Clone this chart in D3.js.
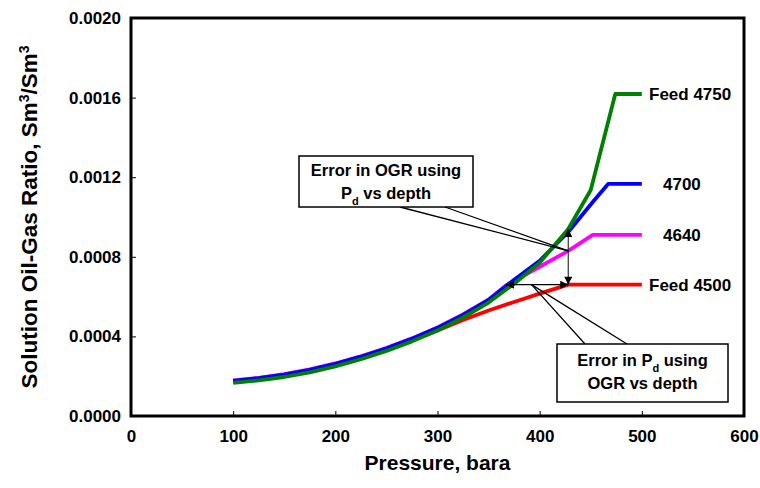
<!DOCTYPE html>
<html>
<head>
<meta charset="utf-8">
<script src="https://cdn.jsdelivr.net/npm/d3@7/dist/d3.min.js"></script>
<style>
  body { margin: 0; background: #fff; }
  svg { display: block; font-family: "Liberation Sans", Arial, sans-serif; font-weight: bold; }
</style>
</head>
<body>
<svg id="chart" width="760" height="488"></svg>
<script>
// Solution oil-gas ratio (Sm3/Sm3) versus pressure (bara) for four feeds
const pressure4500 = [100, 125, 150, 175, 200, 225, 250, 275, 300, 325, 350, 375, 400, 428, 500];
const ogr4500 = [0.000175, 0.000188, 0.000205, 0.000228, 0.000258, 0.000293, 0.000334, 0.000380, 0.000430, 0.000482, 0.000530, 0.000573, 0.000615, 0.000660, 0.000660];

const pressure4640 = [100, 125, 150, 175, 200, 225, 250, 275, 300, 325, 350, 367, 400, 428, 452, 500];
const ogr4640 = [0.000179, 0.000192, 0.000210, 0.000234, 0.000264, 0.000300, 0.000342, 0.000390, 0.000445, 0.000510, 0.000585, 0.000656, 0.000750, 0.000830, 0.000910, 0.000910];

const pressure4700 = [100, 125, 150, 175, 200, 225, 250, 275, 300, 325, 350, 375, 400, 428, 452, 467, 500];
const ogr4700 = [0.000177, 0.000190, 0.000208, 0.000232, 0.000262, 0.000298, 0.000340, 0.000388, 0.000443, 0.000508, 0.000583, 0.000685, 0.000780, 0.000925, 0.001075, 0.001166, 0.001166];

const pressure4750 = [100, 125, 150, 175, 200, 225, 250, 275, 300, 325, 350, 375, 400, 428, 450, 474, 500];
const ogr4750 = [0.000166, 0.000179, 0.000196, 0.000219, 0.000249, 0.000285, 0.000327, 0.000375, 0.000430, 0.000495, 0.000570, 0.000665, 0.000770, 0.000940, 0.001136, 0.001618, 0.001618];

const seriesNames = ["Feed 4500", "4640", "4700", "Feed 4750"];
const seriesColors = ["#ff0000", "#ff00ff", "#0000ff", "#008000"];

const xTicks = [0, 100, 200, 300, 400, 500, 600];
const yTicks = [0.0000, 0.0004, 0.0008, 0.0012, 0.0016, 0.0020];

// Annotation anchors in data units
const ogrErrorPressure = 428;          // vertical arrow: OGR error at this pressure
const ogrErrorRange = [0.000940, 0.000660];
const pdErrorOgr = 0.000660;           // horizontal arrow: Pd error at this OGR
const pdErrorRange = [367, 428];
const ogrCalloutTip = [428, 0.000830];
const pdCalloutTip = [392, 0.000660];

const svg = d3.select("#chart");
const x = d3.scaleLinear().domain([0, 600]).range([131, 744]);
const y = d3.scaleLinear().domain([0, 0.002]).range([416, 18]);

const series = [
  { name: seriesNames[0], color: seriesColors[0], p: pressure4500, v: ogr4500 },
  { name: seriesNames[1], color: seriesColors[1], p: pressure4640, v: ogr4640 },
  { name: seriesNames[2], color: seriesColors[2], p: pressure4700, v: ogr4700 },
  { name: seriesNames[3], color: seriesColors[3], p: pressure4750, v: ogr4750 }
];

// Axes with inward ticks
const xAxis = d3.axisBottom(x).tickValues(xTicks).tickSizeInner(-5).tickSizeOuter(0).tickPadding(14).tickFormat(d3.format("d"));
const yAxis = d3.axisLeft(y).tickValues(yTicks).tickSizeInner(-5).tickSizeOuter(0).tickPadding(10).tickFormat(d3.format(".4f"));

const gx = svg.append("g").attr("transform", `translate(0,${y(0)})`).call(xAxis);
const gy = svg.append("g").attr("transform", `translate(${x(0)},0)`).call(yAxis);
[gx, gy].forEach(g => {
  g.select(".domain").remove();
  g.selectAll(".tick line").attr("stroke", "#000").attr("stroke-width", 1);
  g.selectAll(".tick text").attr("fill", "#000").style("font-size", "17px").style("font-weight", "bold")
    .style("font-family", "'Liberation Sans', Arial, sans-serif");
});
gx.selectAll(".tick text").attr("dy", "0.71em");

// Series lines
const line = d3.line().x(d => x(d[0])).y(d => y(d[1]));
series.forEach(s => {
  svg.append("path")
    .datum(s.p.map((p, k) => [p, s.v[k]]))
    .attr("d", line)
    .attr("fill", "none")
    .attr("stroke", s.color)
    .attr("stroke-width", 3.8)
    .attr("stroke-linejoin", "round");
});

// Plot frame
svg.append("rect")
  .attr("x", x(0)).attr("y", y(0.002))
  .attr("width", x(600) - x(0)).attr("height", y(0) - y(0.002))
  .attr("fill", "none").attr("stroke", "#000").attr("stroke-width", 3);

// Series labels at the right end of each curve
const labelPos = [
  { dx: 649, ogr: ogr4500[ogr4500.length - 1] },
  { dx: 663, ogr: ogr4640[ogr4640.length - 1] },
  { dx: 663, ogr: ogr4700[ogr4700.length - 1] },
  { dx: 649, ogr: ogr4750[ogr4750.length - 1] }
];
series.forEach((s, i) => {
  svg.append("text")
    .attr("x", labelPos[i].dx)
    .attr("y", y(labelPos[i].ogr))
    .attr("dy", "0.36em")
    .style("font-size", "17px")
    .text(s.name);
});

// Arrow markers
const defs = svg.append("defs");
defs.append("marker")
  .attr("id", "head").attr("viewBox", "0 0 10 10")
  .attr("refX", 10).attr("refY", 5)
  .attr("markerWidth", 12).attr("markerHeight", 8)
  .attr("markerUnits", "userSpaceOnUse")
  .attr("orient", "auto-start-reverse")
  .append("path").attr("d", "M0,0 L10,5 L0,10 Z").attr("fill", "#000");

svg.append("line")
  .attr("x1", x(ogrErrorPressure)).attr("x2", x(ogrErrorPressure))
  .attr("y1", y(ogrErrorRange[0])).attr("y2", y(ogrErrorRange[1]))
  .attr("stroke", "#333").attr("stroke-width", 1.2)
  .attr("marker-start", "url(#head)").attr("marker-end", "url(#head)");

svg.append("line")
  .attr("x1", x(pdErrorRange[0])).attr("x2", x(pdErrorRange[1]))
  .attr("y1", y(pdErrorOgr)).attr("y2", y(pdErrorOgr))
  .attr("stroke", "#000").attr("stroke-width", 1.2)
  .attr("marker-start", "url(#head)").attr("marker-end", "url(#head)");

// Callout boxes with pointer wedges
function callout(box, anchors, tip, lines) {
  const g = svg.append("g");
  const tx = x(tip[0]), ty = y(tip[1]);
  anchors.forEach(a => {
    g.append("line").attr("x1", a[0]).attr("y1", a[1]).attr("x2", tx).attr("y2", ty)
      .attr("stroke", "#000").attr("stroke-width", 1.3);
  });
  g.append("rect").attr("x", box.x).attr("y", box.y).attr("width", box.w).attr("height", box.h)
    .attr("fill", "#fff").attr("stroke", "#000").attr("stroke-width", 1.5);
  lines.forEach((parts, i) => {
    const t = g.append("text")
      .attr("x", box.x + box.w / 2)
      .attr("y", box.y + box.baseline + i * 22.5)
      .attr("text-anchor", "middle")
      .style("font-size", "16.5px");
    parts.forEach(p => {
      const sp = t.append("tspan").text(p.t);
      if (p.sub) sp.attr("baseline-shift", "sub").style("font-size", "11px");
    });
  });
}

callout({ x: 299, y: 156, w: 174, h: 51, baseline: 20 },
  [[400, 207], [445, 207]], ogrCalloutTip,
  [[{ t: "Error in OGR using" }], [{ t: "P" }, { t: "d", sub: true }, { t: " vs depth" }]]);

callout({ x: 557, y: 344, w: 171, h: 58, baseline: 22 },
  [[585, 344], [627, 344]], pdCalloutTip,
  [[{ t: "Error in P" }, { t: "d", sub: true }, { t: " using" }], [{ t: "OGR vs depth" }]]);

// Axis titles
svg.append("text")
  .attr("x", (x(0) + x(600)) / 2).attr("y", 470)
  .attr("text-anchor", "middle")
  .style("font-size", "21px")
  .text("Pressure, bara");

const yt = svg.append("text")
  .attr("transform", `translate(37,${(y(0) + y(0.002)) / 2}) rotate(-90)`)
  .attr("text-anchor", "middle")
  .style("font-size", "22.5px");
yt.append("tspan").text("Solution Oil-Gas Ratio, Sm");
yt.append("tspan").text("3").attr("baseline-shift", "super").style("font-size", "14px");
yt.append("tspan").text("/Sm");
yt.append("tspan").text("3").attr("baseline-shift", "super").style("font-size", "14px");
</script>
</body>
</html>
